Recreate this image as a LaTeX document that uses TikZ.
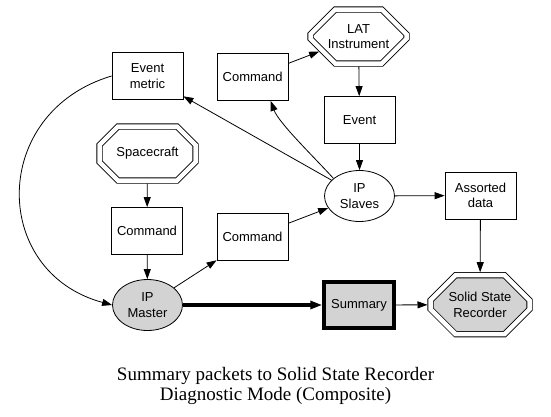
\documentclass[tikz,border=0pt]{standalone}
\usepackage{fontspec}
\setmainfont{Liberation Serif}
\setsansfont{Liberation Sans}
\usepackage{tikz}
\usetikzlibrary{arrows.meta, shapes.geometric, shapes.misc}
\definecolor{boxgray}{HTML}{D3D3D3}

\begin{document}
\begin{tikzpicture}[
  x=1pt, y=-1pt,
  every node/.style={font=\sffamily\fontsize{13}{15.5}\selectfont, text=black, align=center, inner sep=0pt},
  msgbox/.style={
    draw,
    line width=0.8pt,
    minimum width=71pt,
    minimum height=47pt,
  },
  procnode/.style={
    draw,
    ellipse,
    line width=0.8pt,
    minimum width=70pt,
    minimum height=51pt,
  },
  devnode/.style={
    chamfered rectangle,
    chamfered rectangle xsep=22pt,
    chamfered rectangle ysep=12.5pt,
    draw,
    line width=0.8pt,
    double,
    double distance=4.5pt,
    outer sep=3pt,
    minimum width=96pt,
    minimum height=54pt,
  },
  flow/.style={
    -{Triangle[length=10pt, width=7pt]},
    line width=0.8pt,
  },
  mainflow/.style={
    -{Triangle[length=12pt, width=8pt]},
    line width=3.5pt,
  },
  caption/.style={
    font=\rmfamily\fontsize{19}{20.5}\selectfont,
  },
]
  \useasboundingbox (0,0) rectangle (551,416);

  % top row
  \node[msgbox] (evmetric) at (147.5,76) {Event\\metric};
  \node[msgbox] (cmdlat) at (252.7,77) {Command};
  \node[devnode] (lat) at (358.5,36.5) {LAT\\Instrument};
  \node[msgbox] (event) at (359.5,120) {Event};

  % middle
  \node[devnode] (spacecraft) at (147.5,153.5) {Spacecraft};
  \node[procnode] (slaves) at (359.5,196) {IP\\Slaves};
  \node[msgbox] (assorted) at (480.5,195.5) {Assorted\\data};
  \node[msgbox] (cmdsc) at (147,231) {Command};
  \node[msgbox] (cmdslaves) at (252.5,237) {Command};

  % bottom row
  \node[procnode, fill=boxgray] (master) at (147.5,305) {IP\\Master};
  \node[msgbox, fill=boxgray, line width=3.5pt, minimum width=70pt, minimum height=46pt] (summary) at (359,305) {Summary};
  \node[devnode, fill=boxgray, minimum width=99pt, minimum height=59pt] (ssr) at (480,304.7) {Solid State\\Recorder};

  \node[caption] (title) at (275.5,386) {Summary packets to Solid State Recorder\\Diagnostic Mode (Composite)};

  \draw[flow] (cmdlat) -- (lat);
  \draw[flow] (lat) -- (event);
  \draw[flow] (event) -- (slaves);
  \draw[flow] (slaves.146) .. controls +(-20,-22) and +(8,22) .. ([xshift=18pt]cmdlat.south);
  \draw[flow] (slaves) -- (evmetric);
  \draw[flow] (slaves) -- (assorted);
  \draw[flow] (assorted) -- (ssr);
  \draw[flow] (evmetric.west) .. controls (-10,112) and (-10,272) .. (master.west);
  \draw[flow] (spacecraft) -- (cmdsc);
  \draw[flow] (cmdsc) -- (master);
  \draw[flow] (master) -- (cmdslaves);
  \draw[flow] (cmdslaves) -- (slaves);
  \draw[mainflow] (master) -- (summary);
  \draw[flow] (summary) -- (ssr);
\end{tikzpicture}
\end{document}
